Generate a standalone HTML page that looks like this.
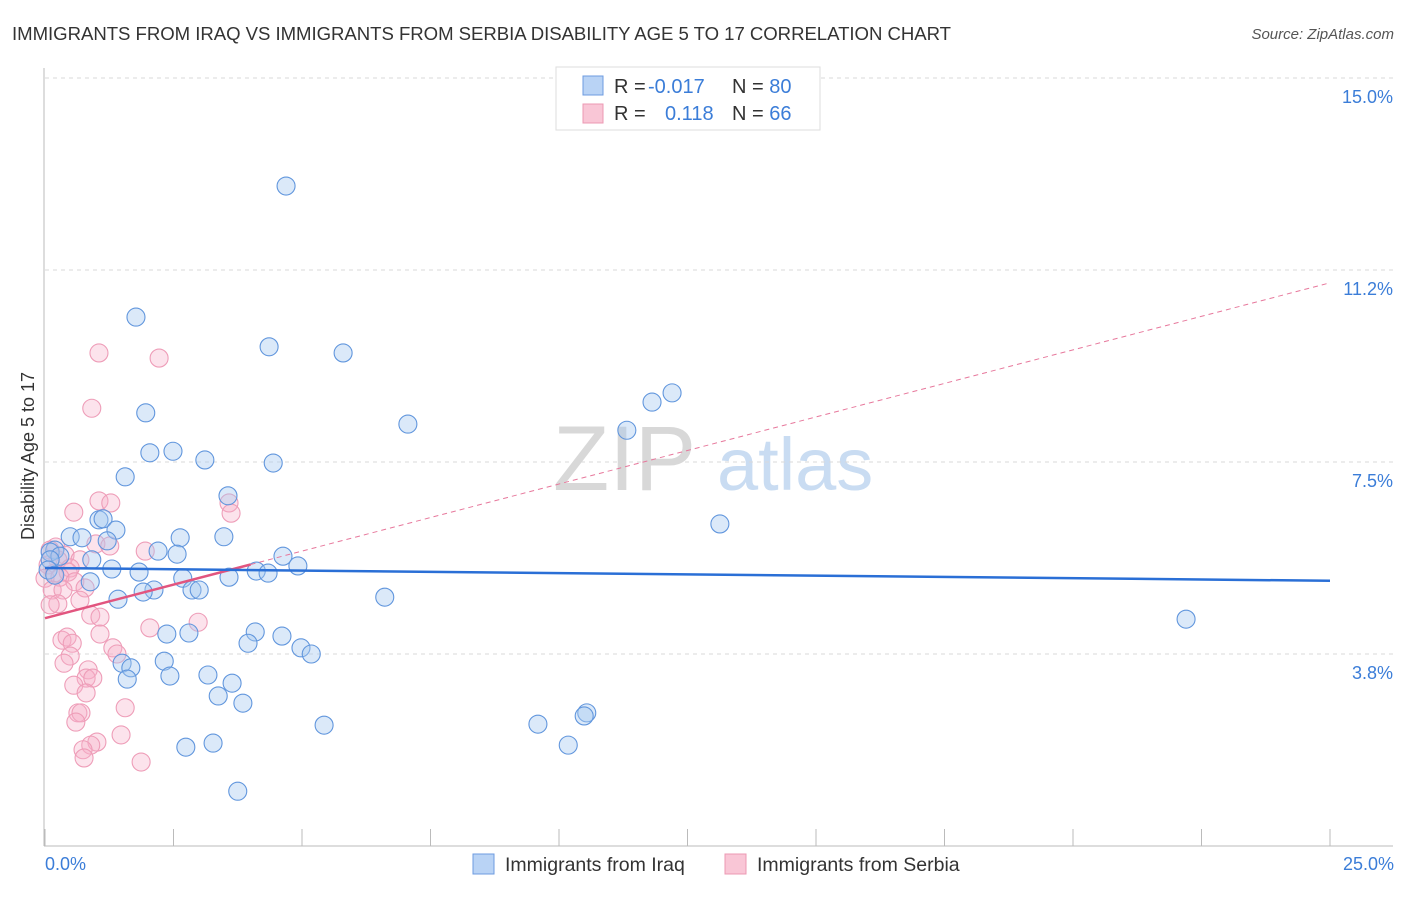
<!DOCTYPE html>
<html><head><meta charset="utf-8"><style>
body{margin:0;background:#fff;font-family:"Liberation Sans",sans-serif}
svg text{font-family:"Liberation Sans",sans-serif}
</style></head><body>
<svg id="chart" width="1406" height="892" xmlns="http://www.w3.org/2000/svg">
<text x="12" y="40" font-size="18.6" fill="#333" textLength="939">IMMIGRANTS FROM IRAQ VS IMMIGRANTS FROM SERBIA DISABILITY AGE 5 TO 17 CORRELATION CHART</text>
<text x="1394" y="39" font-size="15" fill="#555" text-anchor="end" font-style="italic">Source: ZipAtlas.com</text>
<g>
<text x="553" y="490" font-size="92" fill="#d8d8d8" font-family="Liberation Serif">ZIP</text>
<text x="717" y="490" font-size="74" fill="#c9dcf2">atlas</text>
</g>
<g id="grid"></g>
<g id="axes"></g>
<g id="pts"></g>
<g id="trends"></g>
<text x="34" y="456" font-size="18" fill="#333" text-anchor="middle" transform="rotate(-90 34 456)">Disability Age 5 to 17</text>
<text x="45" y="870" font-size="18" fill="#3b7dd8">0.0%</text>
<text x="1394" y="870" font-size="18" fill="#3b7dd8" text-anchor="end">25.0%</text>
<g>
<rect x="556" y="67" width="264" height="63" fill="#fff" stroke="#ddd"/>
<rect x="583" y="76" width="20" height="19" fill="#b9d3f5" stroke="#6d9be0"/>
<rect x="583" y="104" width="20" height="19" fill="#f9c6d6" stroke="#ec98b3"/>
<text x="614" y="93" font-size="20" fill="#333">R = <tspan fill="#3b7dd8" x="648">-0.017</tspan></text>
<text x="732" y="93" font-size="20" fill="#333">N = <tspan fill="#3b7dd8">80</tspan></text>
<text x="614" y="120" font-size="20" fill="#333">R = <tspan fill="#3b7dd8" x="665">0.118</tspan></text>
<text x="732" y="120" font-size="20" fill="#333">N = <tspan fill="#3b7dd8">66</tspan></text>
</g>
<g>
<rect x="473" y="854" width="21" height="20" fill="#b9d3f5" stroke="#6d9be0"/>
<text x="505" y="871" font-size="19.5" fill="#333">Immigrants from Iraq</text>
<rect x="725" y="854" width="21" height="20" fill="#f9c6d6" stroke="#ec98b3"/>
<text x="757" y="871" font-size="19.5" fill="#333">Immigrants from Serbia</text>
</g>
</svg>
<script>
const yTicks=[3.75,7.5,11.25,15];
const yTickLabels=["3.8%","7.5%","11.2%","15.0%"];
const xTicks=[0,2.5,5,7.5,10,12.5,15,17.5,20,22.5,25];
const iraqX=[4.69,1.77,4.36,5.80,1.96,7.06,12.20,11.81,11.32,2.04,2.49,3.11,4.44,1.56,3.56,13.13,1.05,1.13,1.38,2.63,3.48,0.49,0.72,1.21,2.20,2.57,4.63,0.19,0.10,0.29,0.91,1.30,1.83,4.92,4.11,4.34,2.68,3.58,0.88,2.12,1.91,2.86,3.00,1.42,6.61,22.2,2.37,2.80,4.09,4.61,3.95,4.98,5.18,2.32,1.50,1.67,1.60,2.43,3.17,3.64,3.37,3.85,5.43,9.59,10.54,10.49,10.18,2.74,3.27,3.75,0.10,0.06,0.19];
const iraqY=[12.89,10.33,9.75,9.63,8.46,8.24,8.85,8.67,8.12,7.68,7.71,7.54,7.48,7.21,6.84,6.29,6.37,6.39,6.17,6.02,6.04,6.04,6.02,5.96,5.76,5.70,5.66,5.78,5.74,5.66,5.59,5.41,5.35,5.47,5.37,5.33,5.23,5.25,5.16,5.00,4.96,5.00,5.00,4.82,4.86,4.43,4.14,4.16,4.18,4.10,3.96,3.87,3.75,3.61,3.57,3.48,3.26,3.32,3.34,3.18,2.93,2.79,2.36,2.38,2.60,2.54,1.97,1.93,2.01,1.07,5.59,5.39,5.29];
const serbiaX=[1.05,2.22,0.91,1.05,1.28,0.56,3.58,3.62,0.99,1.26,1.95,0.21,0.10,0.39,0.68,0.25,0.06,0.49,0.18,0.45,0.00,0.29,0.58,0.14,0.35,0.78,0.68,0.25,0.89,1.07,0.10,2.04,2.98,0.33,0.43,1.07,0.53,1.32,1.40,0.49,0.37,0.84,0.80,0.93,0.56,0.80,1.56,0.64,0.70,0.60,1.48,1.01,0.89,0.74,0.76,1.87];
const serbiaY=[9.63,9.53,8.55,6.74,6.70,6.52,6.70,6.50,5.90,5.86,5.76,5.84,5.78,5.68,5.59,5.59,5.49,5.43,5.33,5.35,5.23,5.25,5.16,5.00,5.00,5.04,4.80,4.73,4.51,4.47,4.71,4.26,4.37,4.02,4.08,4.14,3.96,3.87,3.75,3.71,3.57,3.44,3.28,3.28,3.14,2.99,2.70,2.60,2.60,2.42,2.17,2.03,1.97,1.88,1.72,1.64];
const iraqTrend=[5.43,5.18];
const serbiaTrend=[4.45,11.0];
const serbiaSolidEnd=4.0;

const NS="http://www.w3.org/2000/svg";
const X0=45,X1=1330,Y0=846,Y15=78;
const sx=v=>X0+(X1-X0)*v/25;
const sy=v=>Y0-(Y0-Y15)*v/15;
function mk(tag,attrs,parent){const e=document.createElementNS(NS,tag);for(const k in attrs)e.setAttribute(k,attrs[k]);parent.appendChild(e);return e;}
const grid=document.getElementById('grid');
yTicks.forEach((t,i)=>{
  const l=mk('line',{x1:X0,x2:1393,y1:sy(t),y2:sy(t),stroke:'#d9d9d9','stroke-dasharray':'4,4'},grid);
  
  
  const tx=mk('text',{x:1393,y:sy(t)+25,'font-size':18,fill:'#3b7dd8','text-anchor':'end'},grid);
  tx.textContent=yTickLabels[i];
  
  
});
const axes=document.getElementById('axes');
const ya=mk('line',{x1:44,x2:44,y1:68,y2:Y0,stroke:'#bbb'},axes);


const xa=mk('line',{x1:44,x2:1393,y1:Y0,y2:Y0,stroke:'#bbb'},axes);


xTicks.forEach(t=>{
  const l=mk('line',{x1:sx(t),x2:sx(t),y1:829,y2:Y0,stroke:'#bbb'},axes);
  
  
});
const pts=document.getElementById('pts');
serbiaX.forEach((x,i)=>{
  const c=mk('circle',{cx:sx(x),cy:sy(serbiaY[i]),r:9,fill:'rgba(246,175,200,0.35)',stroke:'#ee9db8','stroke-width':1.1},pts);
  
  
});
iraqX.forEach((x,i)=>{
  const c=mk('circle',{cx:sx(x),cy:sy(iraqY[i]),r:9,fill:'rgba(165,199,240,0.4)',stroke:'#6196dd','stroke-width':1.1},pts);
  
  
});
const tr=document.getElementById('trends');
const pAt=x=>serbiaTrend[0]+(serbiaTrend[1]-serbiaTrend[0])*x/25;
const pd=mk('line',{x1:sx(serbiaSolidEnd),y1:sy(pAt(serbiaSolidEnd)),x2:sx(25),y2:sy(serbiaTrend[1]),stroke:'#e7789c','stroke-width':1,'stroke-dasharray':'5,4'},tr);


const ps=mk('line',{x1:sx(0),y1:sy(serbiaTrend[0]),x2:sx(serbiaSolidEnd),y2:sy(pAt(serbiaSolidEnd)),stroke:'#e2557f','stroke-width':2.5},tr);


const bl=mk('line',{x1:sx(0),y1:sy(iraqTrend[0]),x2:sx(25),y2:sy(iraqTrend[1]),stroke:'#2a6fd6','stroke-width':2.5},tr);


</script>
</body></html>
